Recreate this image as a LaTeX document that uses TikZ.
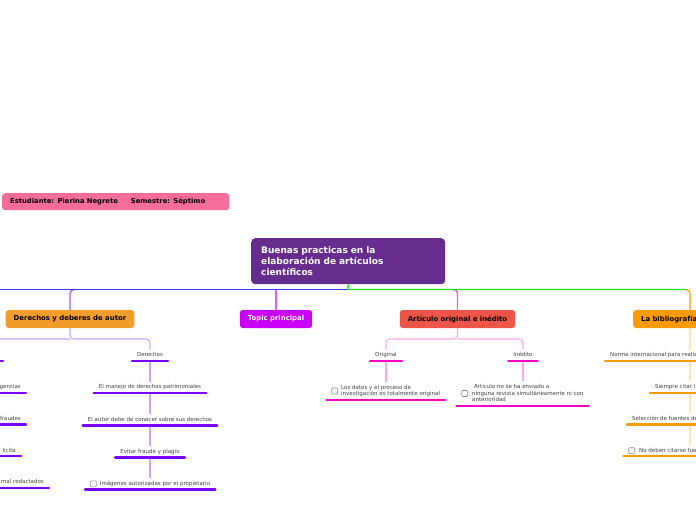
\documentclass[tikz,border=0pt]{standalone}
\usepackage{fontspec}
\setmainfont{DejaVu Sans}
\usetikzlibrary{positioning, calc}

\definecolor{pinkbox}{HTML}{F56D9B}
\definecolor{central}{HTML}{662D8F}
\definecolor{orangebox}{HTML}{F29C2B}
\definecolor{topicmag}{HTML}{C800F5}
\definecolor{redbox}{HTML}{EC5548}
\definecolor{bibor}{HTML}{FF9A00}
\definecolor{violet}{HTML}{7A00FF}
\definecolor{lightviolet}{HTML}{C8A6F7}
\definecolor{magline}{HTML}{FF00CC}
\definecolor{lightmag}{HTML}{FFA6EC}
\definecolor{lightor}{HTML}{FFE1B3}
\definecolor{bluebr}{HTML}{3A3AFF}
\definecolor{greenbr}{HTML}{1EE01E}
\definecolor{purplebr}{HTML}{A05CFF}
\definecolor{magbr}{HTML}{E05CFF}
\definecolor{pinkbr}{HTML}{F056D6}
\definecolor{leafgray}{HTML}{404040}
\definecolor{chkgray}{HTML}{8A8A8A}

\tikzstyle{topic} = [rounded corners=3pt, minimum height=18pt, inner xsep=8pt, font=\fontsize{6.9}{8}\selectfont\bfseries, text=black]
\tikzstyle{leafbase} = [inner xsep=5pt, inner ysep=2.7pt, text depth=1.3pt, text=leafgray, font=\fontsize{5.5}{6.8}\selectfont]
\tikzstyle{leaf} = [leafbase, text height=4.3pt]
\tikzstyle{chk} = [draw=chkgray, rounded corners=1pt, minimum size=6pt, inner sep=0pt, line width=0.6pt]
\tikzstyle{uline} = [line width=2.4pt, line cap=round]
\tikzstyle{thin} = [line width=1.1pt, rounded corners=4pt]
\tikzstyle{branch} = [line width=1.3pt, rounded corners=4pt]

\begin{document}
\begin{tikzpicture}[x=1pt, y=-1pt]
        \useasboundingbox (0,0) rectangle (696,520);

        % Student and title
        \node[fill=pinkbox, rounded corners=3pt, anchor=north west, minimum width=227pt, minimum height=17pt, inner xsep=8pt, text width=211pt, align=left, font=\fontsize{6.8}{8}\selectfont\bfseries] (student) at (2,193) {Estudiante: Pierina Negrete\hspace{13pt}Semestre: Séptimo};
        \node[fill=central, rounded corners=4pt, anchor=north west, minimum width=194pt, minimum height=46pt, inner xsep=10pt, text width=174pt, align=left, text=white, font=\fontsize{9}{11}\selectfont\bfseries] (main) at (251,238) {Buenas practicas en la\\elaboración de artículos\\científicos};

        % Main topics
        \node[topic, fill=orangebox] (ddbox) at (70,319) {Derechos y deberes de autor};
        \node[topic, fill=topicmag, text=white] (topicp) at (276,319) {Topic principal};
        \node[topic, fill=redbox] (art) at (457.5,319) {Artículo original e inédito};
        \node[topic, fill=bibor, anchor=west, minimum width=100pt, text width=84pt, align=left] (bib) at (633,319) {La bibliografía};

        \coordinate (hub) at (348,289.5);
        \coordinate (westend) at (-3,289.5);
        \coordinate (bibin) at (690,310);

        % Branches
        \draw[branch, purplebr] ([xshift=6pt]hub -| ddbox.north) -| (ddbox.north);
        \draw[branch, magbr] (hub -| topicp.north) -- (topicp.north);
        \draw[branch, pinkbr] ([xshift=-6pt]hub -| art.north) -| (art.north);
        \draw[branch, bibor] ([xshift=-5pt]hub -| bibin) -| (bibin);
        \draw[line width=1.3pt, bluebr] (hub) -- (westend);
        \draw[line width=1.3pt, greenbr] (main.south) -- (hub) -- ([xshift=-4pt]hub -| bibin);

        % Derechos
        \coordinate (ddfork) at (70,339);
        \coordinate (deb) at (-10,351);
        \node[leaf, anchor=south] (der) at (150,361) {Derechos};
        \node[leaf, below=20.75pt of der] (der2) {El manejo de derechos patrimoniales};
        \node[leaf, below=20.75pt of der2] (der3) {El autor debe de conocer sobre sus derechos};
        \node[leaf, below=20.75pt of der3] (der4) {Evitar fraude y plagio};
        \node[leaf, below=20.75pt of der4, xshift=5pt] (der5) {Imágenes autorizadas por el propietario};
        \node[chk, left=-2pt of der5] (chkder) {};

        \draw[thin, lightviolet] (ddbox.south) -- (ddfork) -| (der.north);
        \draw[thin, lightviolet] (ddfork) -| (deb);
        \foreach \a/\b in {der/der2, der2/der3, der3/der4}
            \draw[thin, lightviolet] (\a.south) -- (\b.north);
        \draw[thin, lightviolet] (der4.south) -- (der4.south |- der5.north);
        \foreach \n in {der, der2, der3, der4}
            \draw[uline, violet] (\n.south west) -- (\n.south east);
        \draw[uline, violet] ([xshift=-5pt]chkder.west |- der5.south) -- (der5.south east);

        % Deberes (cut at the left edge)
        \coordinate (debline) at (3,361);
        \node[leaf, anchor=south east] (deb2) at (26,393) {gencias};
        \node[leaf, anchor=south east] (deb3) at (26,424.5) {fraudes};
        \node[leaf, anchor=south east] (deb4) at (21,456.25) {licita};
        \node[leaf, anchor=south east] (deb5) at (49,488) {mal redactados};
        \draw[uline, violet] (debline) -- (westend |- debline);
        \foreach \n in {deb2, deb3, deb4, deb5}
            \draw[uline, violet] (\n.south east) -- (westend |- \n.south east);

        % Articulo original e inedito
        \coordinate (artfork) at (457.5,339);
        \node[leaf, anchor=south] (orig) at (386,361) {Original};
        \node[leaf, anchor=south] (ined) at (523,361) {Inédito};
        \node[leafbase, anchor=south west, align=left] (datos) at (336,400) {Los datos y el proceso de\\investigación es totalmente original};
        \node[chk, left=-2pt of datos] (chkdatos) {};
        \node[leafbase, anchor=south west, align=left] (envio) at (467,406) {\hspace*{2pt}Artículo no se ha enviado a\\ninguna revista simultáneamente ni con\\anterioridad};
        \node[chk, left=-1pt of envio] (chkenvio) {};

        \draw[thin, lightmag] (art.south) -- (artfork) -| (orig.north);
        \draw[thin, lightmag] (artfork) -| (ined.north);
        \draw[thin, lightmag] (orig.south) -- (orig.south |- datos.north);
        \draw[thin, lightmag] (ined.south) -- (ined.south |- envio.north);
        \foreach \n in {orig, ined}
            \draw[uline, magline] (\n.south west) -- (\n.south east);
        \draw[uline, magline] ([xshift=-5pt]chkdatos.west |- datos.south) -- (datos.south east);
        \draw[uline, magline] ([xshift=-5pt]chkenvio.west |- envio.south) -- (envio.south east);

        % Bibliografia (cut at the right edge)
        \coordinate (eastend) at (702,361);
        \node[leaf, anchor=south west] (bib1) at (605,361) {Norma internacional para realiz};
        \node[leaf, anchor=south west] (bib2) at (650,392.75) {Siempre citar l};
        \node[leaf, anchor=south west] (bib3) at (627,424.5) {Selección de fuentes de};
        \node[leaf, anchor=south west] (bib4) at (634,456.25) {No deben citarse fue};
        \node[chk, left=-1pt of bib4] (chkbib) {};

        \draw[thin, lightor] (bibin |- bib.south) -- (bibin |- bib1.north);
        \foreach \a/\b in {bib1/bib2, bib2/bib3, bib3/bib4}
            \draw[thin, lightor] (bibin |- \a.south) -- (bibin |- \b.north);
        \foreach \n in {bib1, bib2, bib3}
            \draw[uline, bibor] (\n.south west) -- (eastend |- \n.south west);
        \draw[uline, bibor] ([xshift=-5pt]chkbib.west |- bib4.south) -- (eastend |- bib4.south);
    \end{tikzpicture}
\end{document}
